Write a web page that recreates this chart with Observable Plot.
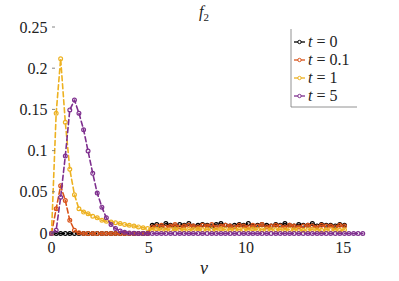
<!DOCTYPE html>
<html><head><meta charset="utf-8">
<script src="https://cdn.jsdelivr.net/npm/d3@7"></script>
<script src="https://cdn.jsdelivr.net/npm/@observablehq/plot@0.6"></script>
<style>body{margin:0;background:#fff} #chart{position:absolute;left:0;top:0}
#chart svg, #chart svg text { font-family: "Liberation Serif", serif !important; }</style>
</head><body><div id="chart"></div><script>
// velocity grid
const v = [0,0.24,0.47,0.71,0.94,1.18,1.41,1.65,1.88,2.12,2.35,2.59,2.82,3.06,3.29,3.53,3.76,4,4.24,4.47,4.71,4.94,5.18,5.41,5.65,5.88,6.12,6.35,6.59,6.82,7.06,7.29,7.53,7.76,8,8.24,8.47,8.71,8.94,9.18,9.41,9.65,9.88,10.12,10.35,10.59,10.82,11.06,11.29,11.53,11.76,12,12.24,12.47,12.71,12.94,13.18,13.41,13.65,13.88,14.12,14.35,14.59,14.82,15.06,15.29,15.53,15.76,16];
const seriesNames = ["t = 0","t = 0.1","t = 1","t = 5"];
const seriesColors = ["#000000","#D95319","#EDB120","#7E2F8E"];
const f_t0 = [0,0,0,0,0,0,0,0,0,0,0,0,0,0,0,0,0,0,0,0,0,0,
 0.010,0.011,0.009,0.012,0.010,0.009,0.011,0.010,0.012,0.009,0.010,0.011,0.010,0.009,0.011,0.012,0.010,0.009,0.010,0.011,
 0.010,0.012,0.009,0.010,0.011,0.010,0.009,0.011,0.010,0.012,0.010,0.009,0.011,0.010,0.010,0.012,0.009,0.011,0.010,0.010,0.009,0.011,0.010];
const f_t01 = [0,0.030,0.058,0.040,0.016,0.004,0.0008,0,0,0,0,0,0,0,0,0,0,0,0,0,0,0,
 0.008,0.009,0.010,0.008,0.009,0.011,0.008,0.009,0.010,0.009,0.008,0.010,0.009,0.011,0.008,0.009,0.010,0.009,0.008,0.010,
 0.009,0.008,0.010,0.009,0.011,0.008,0.009,0.010,0.009,0.008,0.010,0.009,0.008,0.009,0.010,0.009,0.008,0.010,0.009,0.009,0.008,0.010,0.009];
const f_t1 = [0,0.146,0.212,0.135,0.078,0.047,0.030,0.026,0.024,0.021,0.019,0.016,0.015,0.014,0.013,0.012,0.011,0.010,0.009,0.008,0.007,0.006,
 0.005,0.0055,0.005,0.0045,0.005,0.0055,0.005,0.0045,0.005,0.005,0.0055,0.0045,0.005,0.005,0.0045,0.0055,0.005,0.0045,0.005,0.005,
 0.0045,0.005,0.0055,0.005,0.0045,0.005,0.005,0.0045,0.005,0.0045,0.005,0.0045,0.005,0.004,0.0045,0.005,0.0045,0.004,0.0045,0.005,0.0045,0.004,0.0045];
const f_t5 = [0,0.004,0.044,0.094,0.150,0.162,0.146,0.126,0.100,0.073,0.049,0.032,0.019,0.011,0.006,0.003,0.0015,0.0007,0.0003,
 0,0,0,0,0,0,0,0,0,0,0,0,0,0,0,0,0,0,0,0,0,0,0,0,0,0,0,0,0,0,0,0,0,0,0,0,0,0,0,0,0,0,0,0,0,0,0,0,0,0,0];
const xTicks = [0,5,10,15];
const yTicks = [0,0.05,0.1,0.15,0.2,0.25];

const allSeries = [f_t0,f_t01,f_t1,f_t5];
const rows = [];
allSeries.forEach((arr,k)=>arr.forEach((y,i)=>rows.push({v:v[i], f:y, s:seriesNames[k]})));

const W=399,H=281, mL=51, mR=42, mT=27, mB=48;
const font = "Liberation Serif, serif";
const marks = [
  Plot.axisX({ticks:xTicks, tickSize:0, tickPadding:8, label:null, tickFormat:d=>String(d)}),
  Plot.axisY({ticks:yTicks, tickSize:0, tickPadding:4, label:null, tickFormat:d=>String(d)})
];
seriesNames.forEach((name,k)=>{
  const d = rows.filter(r=>r.s===name);
  marks.push(Plot.line(d,{x:"v",y:"f",stroke:seriesColors[k],strokeWidth:1.6,strokeDasharray:"5,3",clip:false}));
  marks.push(Plot.dot(d,{x:"v",y:"f",stroke:seriesColors[k],fill:"none",r:1.9,strokeWidth:1.2,clip:false}));
});
const chart = Plot.plot({
  width:W,height:H,marginLeft:mL,marginRight:mR,marginTop:mT,marginBottom:mB,
  style:{fontFamily:font,fontSize:"16px",color:"#222",background:"#fff",overflow:"visible"},
  x:{domain:[0,15.73]},
  y:{domain:[0,0.25]},
  marks
});
document.getElementById("chart").appendChild(chart);

const svg = d3.select(chart);
const sy = chart.scale("y");
yTicks.forEach(t=>{
  svg.append("line").attr("x1",mL+1).attr("x2",mL+4).attr("y1",sy.apply(t)).attr("y2",sy.apply(t))
    .attr("stroke","#666").attr("stroke-width",0.8);
});
function txt(x,y,anchor,size){
  return svg.append("text").attr("x",x).attr("y",y).attr("text-anchor",anchor)
    .style("text-anchor",anchor).style("font-size",size+"px").attr("fill","#222");
}
const title = txt((mL+W-mR)/2,17,"middle",16);
title.append("tspan").style("font-style","italic").text("f");
title.append("tspan").style("font-size","11px").attr("dy",4).text("2");
txt((mL+W-mR)/2,274,"middle",18).style("font-style","italic").text("v");
const lgX = 291, lgR = W-mR, lgB = 107;
svg.append("line").attr("x1",lgX).attr("x2",lgX).attr("y1",mT+2).attr("y2",lgB).attr("stroke","#777").attr("stroke-width",0.8);
svg.append("line").attr("x1",lgX).attr("x2",lgR).attr("y1",lgB).attr("y2",lgB).attr("stroke","#777").attr("stroke-width",0.8);
seriesNames.forEach((name,k)=>{
  const yy = 42 + k*18;
  svg.append("line").attr("x1",294).attr("x2",305).attr("y1",yy).attr("y2",yy).attr("stroke",seriesColors[k]).attr("stroke-width",1.3);
  svg.append("circle").attr("cx",299.5).attr("cy",yy).attr("r",1.7).attr("fill","#fff").attr("stroke",seriesColors[k]).attr("stroke-width",1);
  const parts = name.split(" = ");
  const tx = txt(308,yy+5,"start",16);
  tx.append("tspan").style("font-style","italic").text(parts[0]);
  tx.append("tspan").text(" = "+parts[1]);
});
</script></body></html>
